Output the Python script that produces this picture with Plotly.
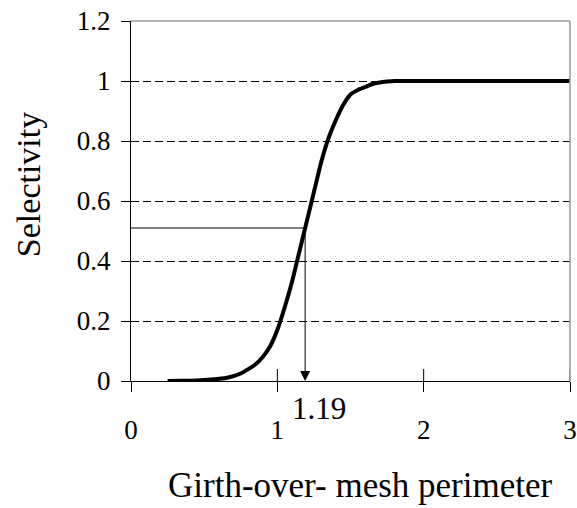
import plotly.graph_objects as go

# ---- data ----
girth_ratio = [0.25, 0.35, 0.45, 0.55, 0.65, 0.75, 0.85, 0.9, 0.95, 1.0, 1.05, 1.1,
               1.15, 1.19, 1.25, 1.3, 1.35, 1.4, 1.45, 1.5, 1.55, 1.6, 1.65, 1.7,
               1.75, 1.8, 1.9, 2.0, 2.2, 2.4, 2.6, 2.8, 3.0]
selectivity = [0.0, 0.001, 0.002, 0.005, 0.01, 0.025, 0.055, 0.08, 0.115, 0.17, 0.245, 0.33,
               0.43, 0.51, 0.63, 0.73, 0.81, 0.87, 0.92, 0.955, 0.97, 0.98, 0.99, 0.995,
               0.998, 1.0, 1.0, 1.0, 1.0, 1.0, 1.0, 1.0, 1.0]
l50_x = 1.19
l50_y = 0.51
x_ticks = [0, 1, 2, 3]
y_ticks = [0, 0.2, 0.4, 0.6, 0.8, 1, 1.2]
y_tick_text = ["0", "0.2", "0.4", "0.6", "0.8", "1", "1.2"]
x_title = "Girth-over- mesh perimeter"
y_title = "Selectivity"

FONT = "Liberation Serif, Times New Roman, serif"

fig = go.Figure()
fig.add_trace(go.Scatter(
    x=girth_ratio, y=selectivity, mode="lines",
    line=dict(color="black", width=4, shape="spline", smoothing=0.5),
    hoverinfo="skip", showlegend=False))

# horizontal reference line to the curve at L50
fig.add_trace(go.Scatter(
    x=[0, l50_x], y=[l50_y, l50_y], mode="lines",
    line=dict(color="black", width=1), hoverinfo="skip", showlegend=False))

# vertical arrow down to the x axis
fig.add_annotation(x=l50_x, y=0, ax=l50_x, ay=l50_y, axref="x", ayref="y",
                   xref="x", yref="y", text="", showarrow=True,
                   arrowhead=2, arrowsize=2, arrowwidth=1, arrowcolor="black")
fig.add_annotation(x=l50_x, y=0, xref="x", yref="y", text=f"{l50_x:.2f}",
                   showarrow=False, xshift=14, yshift=-27, yanchor="middle",
                   font=dict(family=FONT, size=31, color="black"))

# inner halves of the crossing x ticks
for xv in x_ticks[1:]:
    fig.add_shape(type="line", xref="x", yref="y", x0=xv, x1=xv,
                  ysizemode="pixel", yanchor=0, y0=0, y1=12,
                  line=dict(color="black", width=1))

# gray top / right plot border
fig.add_shape(type="line", xref="paper", yref="paper", x0=0, x1=1, y0=1, y1=1,
              line=dict(color="#9a9a9a", width=1.5), layer="above")
fig.add_shape(type="line", xref="paper", yref="paper", x0=1, x1=1, y0=0, y1=1,
              line=dict(color="#9a9a9a", width=1.5), layer="above")

fig.add_annotation(text=y_title, xref="paper", yref="paper", x=0, xshift=-103,
                   y=0.544, textangle=-90, showarrow=False,
                   xanchor="center", yanchor="middle",
                   font=dict(family=FONT, size=34, color="black"))
fig.add_annotation(text=x_title, xref="paper", yref="paper", x=0.5216, y=-0.289,
                   showarrow=False, xanchor="center", yanchor="middle",
                   font=dict(family=FONT, size=35, color="black"))

fig.update_xaxes(range=[0, 3], tickvals=x_ticks, ticktext=[str(v) for v in x_ticks],
                 showgrid=False, zeroline=False, showline=True, linecolor="black",
                 linewidth=1, ticks="outside", ticklen=10, tickcolor="black",
                 tickwidth=1, ticklabelstandoff=15, automargin=False,
                 ticklabeloverflow="allow",
                 tickfont=dict(family=FONT, size=27, color="black"))
fig.update_yaxes(range=[0, 1.2], tickvals=y_ticks, ticktext=y_tick_text,
                 showgrid=True, gridcolor="black", gridwidth=1, griddash="8px,4px",
                 zeroline=False, showline=True, linecolor="black", linewidth=1,
                 ticks="outside", ticklen=9, tickcolor="black", tickwidth=1,
                 ticklabelstandoff=5, automargin=False,
                 ticklabeloverflow="allow",
                 tickfont=dict(family=FONT, size=27, color="black"))

fig.update_layout(width=577, height=508,
                  margin=dict(l=131, r=7, t=21, b=127, autoexpand=False),
                  plot_bgcolor="white", paper_bgcolor="white",
                  showlegend=False)

# remove the default page margin so the figure sits at the window's top-left corner
fig.write_html("out.html",
               config={"displayModeBar": False, "staticPlot": True},
               post_script="document.body.style.margin='0';document.body.style.overflow='hidden';")
